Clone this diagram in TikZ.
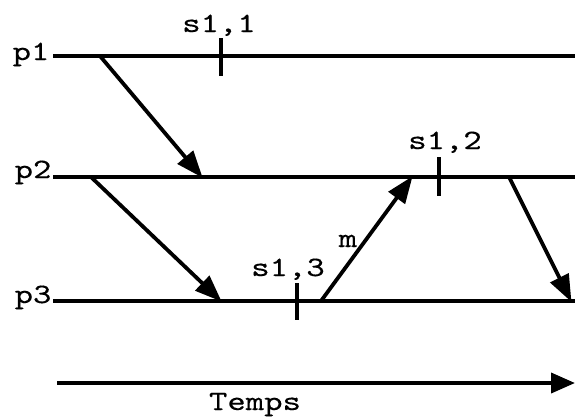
\documentclass[tikz,border=0pt]{standalone}
\usepackage{fontspec}
\newfontfamily\cour{lmmono10-regular}[Extension=.otf, FakeStretch=1.25, FakeBold=0.3]
\usetikzlibrary{arrows.meta}
\tikzset{
  lbl/.style={font=\cour\fontsize{28}{28}\selectfont, inner sep=0pt, anchor=base},
  proc/.style={line width=3.8pt},
  tick/.style={line width=3.8pt},
  msg/.style={line width=3.8pt, -{Triangle[length=27pt,width=20pt]}, shorten >=-1pt},
  axis/.style={line width=3.8pt, -{Triangle[length=24pt,width=20pt]}}
}
\begin{document}
\begin{tikzpicture}[x=1pt,y=-1pt]
\useasboundingbox (0,0) rectangle (575,416);
% process labels
\node[lbl] (p1) at (31,60) {p1};
\node[lbl] (p2) at (33,178) {p2};
\node[lbl] (p3) at (33,303) {p3};
% process lines
\coordinate (p1s) at (53,56);  \coordinate (p1e) at (575,56);
\coordinate (p2s) at (53,177); \coordinate (p2e) at (575,177);
\coordinate (p3s) at (53,301); \coordinate (p3e) at (575,301);
\draw[proc] (p1s) -- (p1e);
\draw[proc] (p2s) -- (p2e);
\draw[proc] (p3s) -- (p3e);
% ticks
\coordinate (t1a) at (221,38);  \coordinate (t1b) at (221,76);
\coordinate (t2a) at (439,157); \coordinate (t2b) at (439,196);
\coordinate (t3a) at (297,283); \coordinate (t3b) at (297,320);
\draw[tick] (t1a) -- (t1b);
\draw[tick] (t2a) -- (t2b);
\draw[tick] (t3a) -- (t3b);
\node[lbl] (s11) at (219,32) {s1,1};
\node[lbl] (s12) at (445,149) {s1,2};
\node[lbl] (s13) at (288,276) {s1,3};
% messages
\coordinate (a1) at (100,56);  \coordinate (b1) at (202,177);
\coordinate (a2) at (91,177);  \coordinate (b2) at (221,301);
\coordinate (a3) at (321,301); \coordinate (b3) at (412,177);
\coordinate (a4) at (509,177); \coordinate (b4) at (571,301);
\draw[msg] (a1) -- (b1);
\draw[msg] (a2) -- (b2);
\draw[msg] (a3) -- (b3);
\draw[msg] (a4) -- (b4);
\node[lbl] (m) at (348,247) {m};
% time axis
\coordinate (ts) at (57,383); \coordinate (te) at (575,383);
\draw[axis] (ts) -- (te);
\node[lbl] (temps) at (255,410) {Temps};
\end{tikzpicture}
\end{document}
